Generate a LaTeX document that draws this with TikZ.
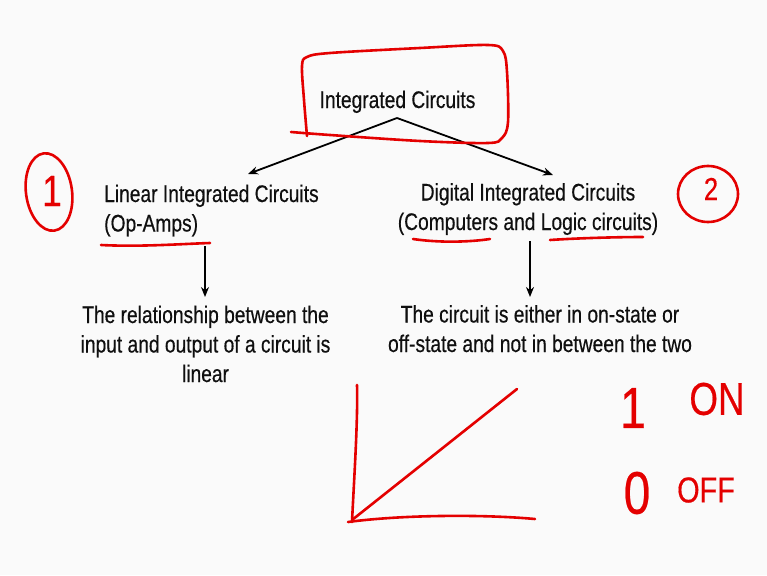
\documentclass[tikz,border=0pt]{standalone}
\usepackage{fontspec}
\setmainfont{Liberation Sans}[FakeStretch=0.8,FakeBold=0.4]
\usetikzlibrary{arrows.meta}
\definecolor{bg}{RGB}{250,250,250}
\definecolor{ink}{RGB}{228,0,0}
\definecolor{txtc}{RGB}{15,15,15}
\begin{document}
\begin{tikzpicture}[x=1pt,y=-1pt,
  txt/.style={inner sep=0pt, font=\fontsize{24}{29.5}\selectfont, text=txtc},
  arr/.style={-{Stealth[length=10pt,width=8pt]}, line width=1.8pt},
  pen/.style={draw=ink, line width=2.6pt, line cap=round, line join=round},
  hand/.style={inner sep=0pt, text=ink}]
\fill[bg] (0,0) rectangle (767,575);
\useasboundingbox (0,0) rectangle (767,575);

% typed texts (anchor base = baseline of the last line)
\node[txt, anchor=base] (ic) at (397.5,108) {Integrated Circuits};
\node[txt, anchor=base west, align=left] (lin) at (104,231.5) {Linear Integrated Circuits\\(Op-Amps)};
\node[txt, anchor=base, align=center] (dig) at (528,230) {Digital Integrated Circuits\\(Computers and Logic circuits)};
\node[txt, anchor=base, align=center] (lt) at (205.5,382) {The relationship between the\\input and output of a circuit is\\linear};
\node[txt, anchor=base, align=center] (dt) at (540,352) {The circuit is either in on-state or\\off-state and not in between the two};

% connectors
\coordinate (apex) at (397,118);
\coordinate (la) at (248,174);
\coordinate (ra) at (553,175);
\coordinate (lv1) at (205,246);
\coordinate (lv2) at (205,297);
\coordinate (rv1) at (530,241);
\coordinate (rv2) at (530,297);
\draw[arr] (apex) -- (la);
\draw[arr] (apex) -- (ra);
\draw[arr] (lv1) -- (lv2);
\draw[arr] (rv1) -- (rv2);

% red hand-drawn box round the title
\draw[pen] plot[smooth, tension=0.55] coordinates {(307,136) (304,100) (302,66) (307,57) (330,53) (420,48) (488,45) (503,51) (507,72) (508,122) (502,138) (488,143) (420,141) (330,135) (291,132)};

% underlines
\draw[pen] (101,245) .. controls (140,247) and (180,244) .. (210,243);
\draw[pen] (413,239) .. controls (440,243) and (470,242) .. (490,239);
\draw[pen] (550,240) .. controls (580,238) and (620,237) .. (643,237);

% circled numbers
\draw[pen, rotate around={8:(49,192)}] (49,192) ellipse [x radius=23, y radius=39];
\node[hand, font=\fontsize{44}{44}\selectfont] (n1) at (52,191) {1};
\draw[pen] (708,194) ellipse [x radius=30, y radius=28];
\node[hand, font=\fontsize{32}{32}\selectfont] (n2) at (711,189) {2};

% graph
\draw[pen] (357,385) .. controls (358,420) and (354,480) .. (352,522);
\draw[pen] (348,522) .. controls (400,515) and (480,514) .. (535,519);
\draw[pen] (352,520) -- (517,389);

% on / off
\node[hand, font=\fontsize{58}{58}\selectfont] (one) at (633,408) {1};
\node[hand, font=\fontsize{46}{46}\selectfont] (on) at (717,399) {ON};
\node[hand, font=\fontsize{60}{60}\selectfont] (zero) at (637,493) {0};
\node[hand, font=\fontsize{36}{36}\selectfont] (off) at (706,490) {OFF};
\end{tikzpicture}
\end{document}
